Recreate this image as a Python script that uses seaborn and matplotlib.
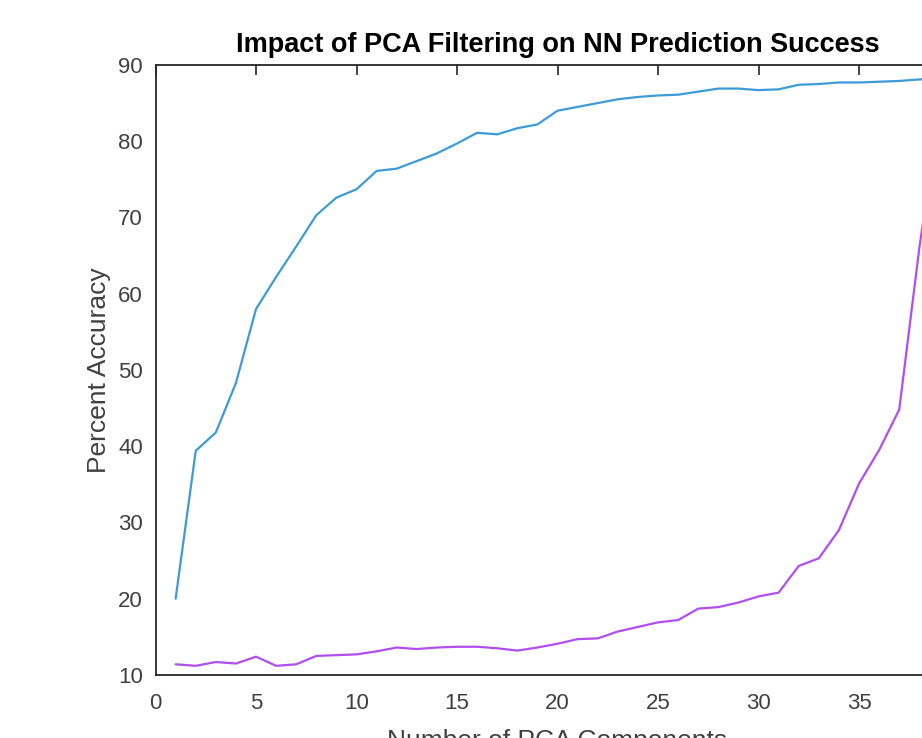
import matplotlib
matplotlib.use("Agg")
import matplotlib.pyplot as plt
import seaborn as sns
import pandas as pd

# Number of principal components kept
components = list(range(1, 40))

# Accuracy (%) of the network with PCA-filtered inputs
acc_filtered = [20.0, 39.4, 41.8, 48.3, 58.0, 62.2, 66.2, 70.3, 72.6, 73.7,
                76.1, 76.4, 77.4, 78.4, 79.7, 81.1, 80.9, 81.7, 82.2, 84.0,
                84.5, 85.0, 85.5, 85.8, 86.0, 86.1, 86.5, 86.9, 86.9, 86.7,
                86.8, 87.4, 87.5, 87.7, 87.7, 87.8, 87.9, 88.1, 88.2]

# Accuracy (%) of the comparison run
acc_other = [11.4, 11.2, 11.7, 11.5, 12.4, 11.2, 11.4, 12.5, 12.6, 12.7,
             13.1, 13.6, 13.4, 13.6, 13.7, 13.7, 13.5, 13.2, 13.6, 14.1,
             14.7, 14.8, 15.7, 16.3, 16.9, 17.2, 18.7, 18.9, 19.5, 20.3,
             20.8, 24.3, 25.3, 29.0, 35.1, 39.5, 44.8, 66.0, 84.0]

x_ticks = [0, 5, 10, 15, 20, 25, 30, 35, 40]
x_tick_labels = ["0", "5", "10", "15", "20", "25", "30", "35", ""]
y_ticks = [10, 20, 30, 40, 50, 60, 70, 80, 90]

df = pd.DataFrame({"components": components,
                   "filtered": acc_filtered,
                   "other": acc_other})

sns.set_theme(style="white")
plt.rcParams["font.family"] = ["Liberation Sans", "DejaVu Sans"]

axis_color = "#262626"
label_color = "#404040"
fig = plt.figure(figsize=(9.22, 7.38), dpi=100)
ax = fig.add_axes([0.1687, 0.0854, 0.872, 0.8266])

sns.lineplot(data=df, x="components", y="filtered", ax=ax,
             color="#3D9BD8", linewidth=1.6)
sns.lineplot(data=df, x="components", y="other", ax=ax,
             color="#B04EF0", linewidth=1.6)

ax.set_xlim(0, 40)
ax.set_ylim(10, 90)
ax.set_xticks(x_ticks)
ax.set_xticklabels(x_tick_labels)
ax.set_yticks(y_ticks)

for side in ["left", "right", "top", "bottom"]:
    ax.spines[side].set_visible(True)
    ax.spines[side].set_color(axis_color)
    ax.spines[side].set_linewidth(1.3)

ax.tick_params(axis="both", which="both", direction="in", length=7,
               width=1.2, color=axis_color, labelcolor=label_color,
               labelsize=16, top=True, right=True)
ax.tick_params(axis="x", pad=13)
ax.tick_params(axis="y", pad=9)

ax.set_xlabel("Number of PCA Components", fontsize=19, color=label_color,
              labelpad=11)
ax.set_ylabel("Percent Accuracy", fontsize=19, color=label_color,
              labelpad=5)
ax.set_title("Impact of PCA Filtering on NN Prediction Success",
             fontsize=19.5, fontweight="bold", color="black", pad=9)

fig.savefig("out.png", dpi=100)
